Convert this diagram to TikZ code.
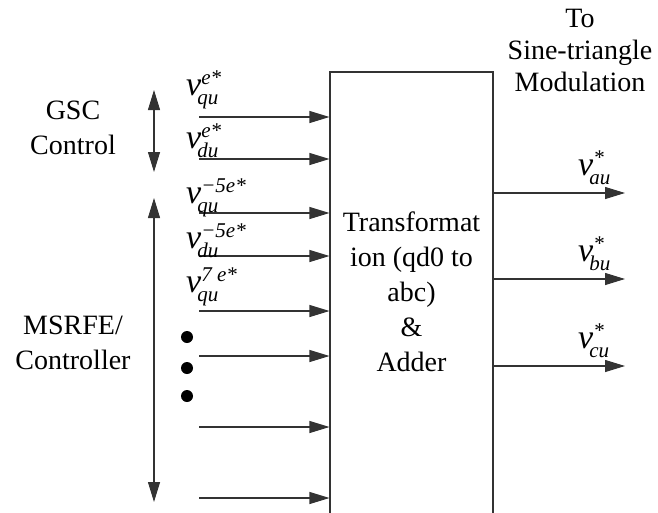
\documentclass[tikz,border=0pt]{standalone}
\usepackage{fontspec}
\setmainfont{Liberation Serif}
\usepackage{tikz}
\usetikzlibrary{arrows.meta,calc}

\newcommand{\vscript}{\fontsize{21}{21}\selectfont\itshape}
\newcommand{\vsig}[2]{\textit{v}\rlap{\raisebox{11pt}{\vscript #1}}\kern-4pt\raisebox{-9pt}{\vscript #2}}

\begin{document}
\begin{tikzpicture}[x=1pt, y=-1pt, >={Triangle[length=20pt,width=12pt]},
  wire/.style={->, line width=1.1pt, black!80},
  lbl/.style={inner sep=0pt, anchor=base west, font=\fontsize{34}{36}\selectfont},
  txt/.style={align=center, inner sep=0pt, font=\fontsize{28}{35}\selectfont}]
  \clip (0,0) rectangle (658,512);

  % adder block, its lower edge is off the page
  \node[draw, line width=1.1pt, black!80, minimum width=163pt, minimum height=460pt] (adder) at (411.5,302) {};
  \node[txt] (adderTxt) at (411.5,292) {Transformat\\ion (qd0 to\\abc)\\\&\\Adder};

  \node[txt] (gsc) at (73,128) {GSC\\Control};
  \node[txt] (msrfe) at (73,343) {MSRFE/\\Controller};
  \node[txt, font=\fontsize{28}{32}\selectfont] (dest) at (580,50) {To\\Sine-triangle\\Modulation};

  % inputs
  \foreach \y [count=\i] in {117,159,213,256,311,356,427,498}
    \coordinate (in\i) at (199,\y);
  \foreach \i in {1,...,8}
    \draw[wire] (in\i) -- (in\i -| adder.west);

  \node[lbl] (vq1) at (186,95) {\vsig{e*}{qu}};
  \node[lbl] (vd1) at (186,148) {\vsig{e*}{du}};
  \node[lbl] (vq5) at (186,203) {\vsig{−5e*}{qu}};
  \node[lbl] (vd5) at (186,248) {\vsig{−5e*}{du}};
  \node[lbl] (vq7) at (186,292) {\vsig{7 e*}{qu}};

  \fill (187,337) circle (6pt);
  \fill (187,368) circle (6pt);
  \fill (187,396) circle (6pt);

  % ranges
  \coordinate (gscT) at (154,90);
  \coordinate (gscB) at (154,172);
  \coordinate (msrT) at (154,198);
  \coordinate (msrB) at (154,502);
  \draw[wire, <->] (gscT) -- (gscB);
  \draw[wire, <->] (msrT) -- (msrB);

  % outputs
  \foreach \y [count=\i] in {193,279,366}
    \coordinate (out\i) at (625,\y);
  \foreach \i in {1,2,3}
    \draw[wire] (adder.east |- out\i) -- (out\i);

  \node[lbl] (va) at (578,175) {\vsig{*}{au}};
  \node[lbl] (vb) at (578,261) {\vsig{*}{bu}};
  \node[lbl] (vc) at (578,348) {\vsig{*}{cu}};
\end{tikzpicture}
\end{document}
